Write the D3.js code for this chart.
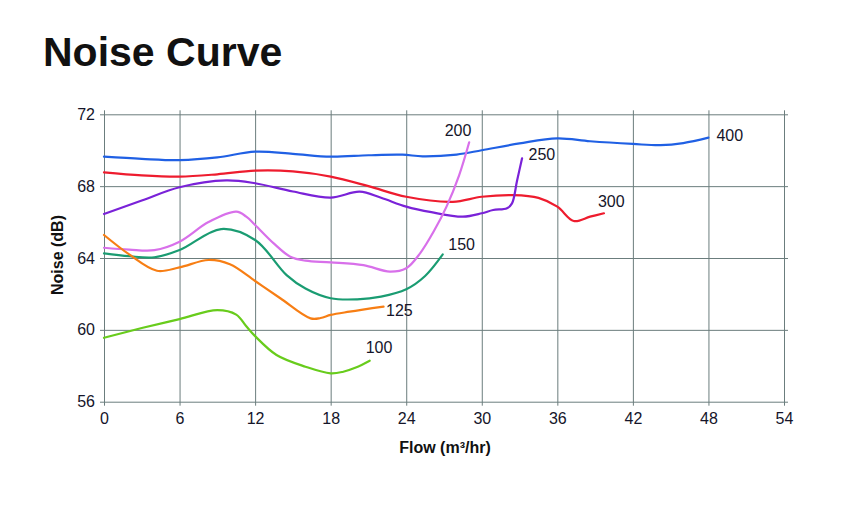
<!DOCTYPE html>
<html>
<head>
<meta charset="utf-8">
<script src="https://cdn.jsdelivr.net/npm/d3@7"></script>
<style>
    body { margin: 0; background: #fff; }
    #chart { width: 854px; height: 514px; }
    .axis text { font-family: "Liberation Sans", Arial, sans-serif; font-size: 16px; fill: #15152a; }
    .axis path { display: none; }
    .axis line { stroke: #6b7d7d; }
    .ax { font-family: "Liberation Sans", Arial, sans-serif; font-size: 16px; font-weight: bold; fill: #111; }
    .lbl { font-family: "Liberation Sans", Arial, sans-serif; font-size: 16px; fill: #15152a; }
</style>
</head>
<body>
<div id="chart"></div>
<script>
// flow (m3/hr) and noise (dB), one pair of arrays per fan size
var flow400 = [0, 3, 6, 9, 12, 15, 18, 21, 23.7, 25.3, 28, 30, 33, 36, 38.6, 42, 44.2, 46, 48];
var noise400 = [69.64, 69.52, 69.45, 69.6, 69.92, 69.8, 69.64, 69.72, 69.75, 69.66, 69.76, 70.0, 70.38, 70.66, 70.5, 70.35, 70.28, 70.4, 70.7];

var flow300 = [0, 3, 6, 9, 12, 15, 18, 21, 24, 27.7, 30, 32.5, 34.5, 36, 37.3, 38.6, 39.7];
var noise300 = [68.77, 68.6, 68.53, 68.66, 68.86, 68.82, 68.53, 68.0, 67.41, 67.13, 67.41, 67.5, 67.35, 66.86, 66.06, 66.3, 66.49];

var flow250 = [0, 3, 6, 9.7, 12, 15, 18, 20.3, 22, 24, 26, 28.5, 30, 30.9, 32, 32.4, 32.8, 33.2];
var noise250 = [66.45, 67.2, 67.94, 68.32, 68.16, 67.7, 67.36, 67.69, 67.35, 66.86, 66.55, 66.3, 66.49, 66.67, 66.77, 67.04, 68.3, 69.55];

var flow200 = [0, 2, 4, 6, 8.3, 10.5, 11.3, 12, 13.5, 14.8, 16, 18, 20.6, 22.7, 24, 25.1, 26.2, 27.2, 28.2, 29];
var noise200 = [64.57, 64.47, 64.44, 64.91, 66.0, 66.58, 66.3, 65.84, 64.8, 64.07, 63.85, 63.76, 63.6, 63.24, 63.43, 64.26, 65.5, 66.86, 68.6, 70.44];

var flow150 = [0, 2, 4, 6, 9.3, 12, 14.5, 16, 18, 20.1, 22, 24, 25.5, 26.9];
var noise150 = [64.26, 64.1, 64.04, 64.44, 65.61, 65.0, 63.05, 62.3, 61.76, 61.7, 61.85, 62.26, 63.0, 64.2];

var flow125 = [0, 2, 4.2, 6, 8.3, 10, 12, 14, 16.4, 17.2, 18, 19.5, 22.2];
var noise125 = [65.28, 64.2, 63.29, 63.48, 63.89, 63.65, 62.72, 61.76, 60.64, 60.66, 60.83, 61.01, 61.29];

var flow100 = [0, 3, 6, 9, 10.5, 11.3, 12, 13.7, 16, 18, 19, 20, 21.1];
var noise100 = [59.56, 60.1, 60.6, 61.1, 60.85, 60.2, 59.65, 58.6, 57.95, 57.58, 57.67, 57.9, 58.28];

var series = [
    { name: "400", color: "#2060e4", flow: flow400, noise: noise400 },
    { name: "300", color: "#ee1c2e", flow: flow300, noise: noise300 },
    { name: "250", color: "#7a22d8", flow: flow250, noise: noise250 },
    { name: "200", color: "#d870ea", flow: flow200, noise: noise200 },
    { name: "150", color: "#1a9c72", flow: flow150, noise: noise150 },
    { name: "125", color: "#f77e14", flow: flow125, noise: noise125 },
    { name: "100", color: "#68cc1c", flow: flow100, noise: noise100 }
];

// label offsets (px) from the line's last point to the text baseline start
var labelDx = { "400": 8, "300": -6, "250": 6.5, "200": -24.5, "150": 5.5, "125": 2.5, "100": -4 };
var labelDy = { "400": 3, "300": -6.5, "250": 1.7, "200": -6.6, "150": -4.3, "125": 9, "100": -7.4 };

var xTicks = [0, 6, 12, 18, 24, 30, 36, 42, 48, 54];
var yTicks = [56, 60, 64, 68, 72];

var chart = {};
chart.width = 854;
chart.height = 514;
chart.margin = { top: 114.3, left: 104, right: 70, bottom: 112.3 };

chart.svg = d3.select("#chart")
    .append("svg")
    .attr("width", chart.width)
    .attr("height", chart.height);

chart.svg.append("text")
    .attr("x", 43)
    .attr("y", 66)
    .attr("font-family", "Liberation Sans, Arial, sans-serif")
    .attr("font-weight", "bold")
    .attr("font-size", 41)
    .attr("fill", "#111")
    .text("Noise Curve");

/*
SCALES
*/
chart.xScale = d3.scaleLinear()
    .domain([0, 54])
    .range([chart.margin.left, chart.width - chart.margin.right]);

chart.yScale = d3.scaleLinear()
    .domain([56, 72])
    .range([chart.height - chart.margin.bottom, chart.margin.top]);

var plotH = chart.height - chart.margin.bottom - chart.margin.top;
var plotW = chart.width - chart.margin.right - chart.margin.left;

/*
AXES + GRID
*/
chart.xAxis = chart.svg.append("g")
    .attr("class", "axis")
    .attr("transform", `translate(0, ${chart.height - chart.margin.bottom})`)
    .call(d3.axisBottom(chart.xScale).tickValues(xTicks).tickSize(-plotH - 4).tickPadding(11).tickSizeOuter(0));
chart.xAxis.selectAll("line").attr("y1", 4);

chart.yAxis = chart.svg.append("g")
    .attr("class", "axis")
    .attr("transform", `translate(${chart.margin.left},0)`)
    .call(d3.axisLeft(chart.yScale).tickValues(yTicks).tickSize(-plotW - 4).tickPadding(9).tickSizeOuter(0));
chart.yAxis.selectAll("line").attr("x1", -4);

chart.svg.append("text")
    .attr("class", "ax")
    .attr("x", 445)
    .attr("y", 453)
    .attr("text-anchor", "middle")
    .text("Flow (m³/hr)");

chart.svg.append("text")
    .attr("class", "ax")
    .attr("transform", "rotate(-90)")
    .attr("x", -255)
    .attr("y", 63)
    .attr("text-anchor", "middle")
    .text("Noise (dB)");

/*
LINES
*/
var line = d3.line()
    .x(function(d) { return chart.xScale(d[0]); })
    .y(function(d) { return chart.yScale(d[1]); })
    .curve(d3.curveCatmullRom.alpha(0.5));

series.forEach(function(s) {
    var pts = s.flow.map(function(f, i) { return [f, s.noise[i]]; });
    chart.svg.append("path")
        .datum(pts)
        .attr("d", line)
        .attr("fill", "none")
        .attr("stroke", s.color)
        .attr("stroke-width", 2.2)
        .attr("stroke-linecap", "round");

    var last = pts[pts.length - 1];
    chart.svg.append("text")
        .attr("class", "lbl")
        .attr("x", chart.xScale(last[0]) + labelDx[s.name])
        .attr("y", chart.yScale(last[1]) + labelDy[s.name])
        .text(s.name);
});
</script>
</body>
</html>
